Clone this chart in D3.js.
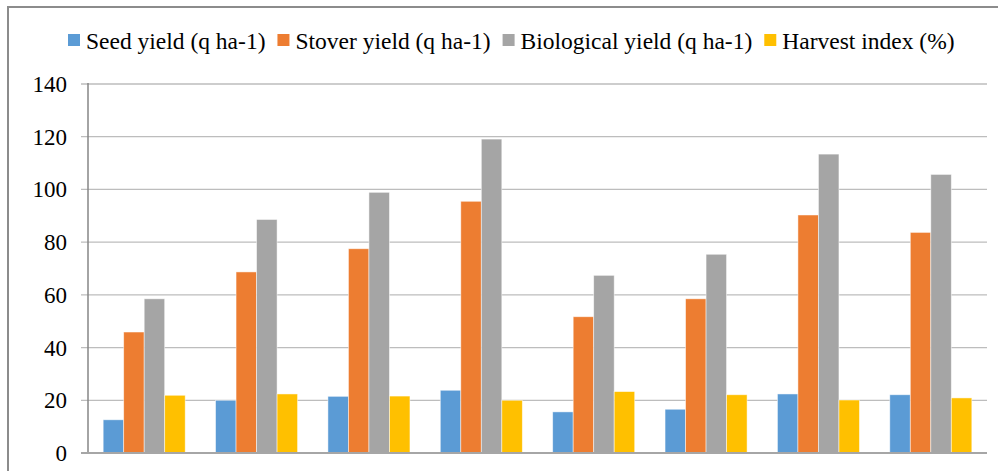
<!DOCTYPE html>
<html lang="en">
<head>
    <meta charset="UTF-8">
    <title>Yield chart</title>
    <script src="https://d3js.org/d3.v7.min.js"></script>
    <style>
        body { margin: 0; background: #ffffff; }
        svg { display: block; }
    </style>
</head>
<body>
<div id="chart"></div>

<script>
    // treatments (x labels are cut off in the source picture)
    const categories = ['T1', 'T2', 'T3', 'T4', 'T5', 'T6', 'T7', 'T8'];

    const seriesNames = ['Seed yield (q ha-1)', 'Stover yield (q ha-1)', 'Biological yield (q ha-1)', 'Harvest index (%)'];
    const seedYield = [12.6, 20.0, 21.5, 23.8, 15.6, 16.6, 22.4, 22.1];
    const stoverYield = [45.9, 68.7, 77.5, 95.5, 51.7, 58.5, 90.3, 83.7];
    const biologicalYield = [58.5, 88.6, 98.9, 119.1, 67.4, 75.4, 113.4, 105.7];
    const harvestIndex = [21.9, 22.4, 21.6, 20.0, 23.3, 22.1, 20.1, 20.9];
    const yTicks = [0, 20, 40, 60, 80, 100, 120, 140];

    const colors = ['#5B9BD5', '#ED7D31', '#A5A5A5', '#FFC000'];
    const series = [seedYield, stoverYield, biologicalYield, harvestIndex];

    const FONT = "'Liberation Serif', 'Times New Roman', Times, serif";
    const width = 998, height = 471;
    const plot = { left: 88, right: 987, top: 84, bottom: 453 };

    const svg = d3.select('#chart').append('svg')
        .attr('width', width)
        .attr('height', height)
        .style('font-family', FONT);

    // chart area border (right and bottom run off the picture)
    svg.append('rect')
        .attr('x', 8).attr('y', 7)
        .attr('width', width + 20).attr('height', height + 20)
        .attr('fill', '#fff')
        .attr('stroke', '#8c8c8c')
        .attr('stroke-width', 2);

    const y = d3.scaleLinear().domain([0, 140]).range([plot.bottom, plot.top]);

    const x0 = d3.scaleBand()
        .domain(categories)
        .range([plot.left, plot.right])
        .paddingInner(0.27)
        .paddingOuter(0.135);

    const x1 = d3.scaleBand()
        .domain(d3.range(series.length))
        .range([0, x0.bandwidth()]);

    // gridlines + tick marks
    svg.append('g')
        .selectAll('line')
        .data(yTicks.filter(t => t > 0))
        .join('line')
        .attr('x1', plot.left - 7)
        .attr('x2', plot.right)
        .attr('y1', d => y(d))
        .attr('y2', d => y(d))
        .attr('stroke', '#bdbdbd')
        .attr('stroke-width', 1.3);

    // y labels
    svg.append('g')
        .selectAll('text')
        .data(yTicks)
        .join('text')
        .attr('x', 67)
        .attr('y', d => y(d) + 8)
        .attr('text-anchor', 'end')
        .attr('font-family', FONT)
        .attr('font-size', 23)
        .attr('fill', '#000')
        .text(d => d);

    // bars
    const groups = svg.append('g')
        .selectAll('g')
        .data(categories)
        .join('g')
        .attr('transform', d => `translate(${x0(d)},0)`);

    groups.selectAll('rect')
        .data((d, i) => series.map((s, k) => ({ k, v: s[i] })))
        .join('rect')
        .attr('x', d => x1(d.k))
        .attr('width', x1.bandwidth())
        .attr('y', d => y(d.v))
        .attr('height', d => y(0) - y(d.v))
        .attr('fill', d => colors[d.k])
        .attr('stroke', 'rgba(255,255,255,0.6)')
        .attr('stroke-width', 0.8);

    // y axis line
    svg.append('line')
        .attr('x1', plot.left).attr('x2', plot.left)
        .attr('y1', plot.top - 1).attr('y2', plot.bottom)
        .attr('stroke', '#868686')
        .attr('stroke-width', 1.5);

    // x axis line
    svg.append('line')
        .attr('x1', plot.left - 7).attr('x2', plot.right)
        .attr('y1', plot.bottom).attr('y2', plot.bottom)
        .attr('stroke', '#a6a6a6')
        .attr('stroke-width', 2);

    // legend
    const legend = svg.append('g');
    let lx = 68;
    seriesNames.forEach((name, i) => {
        legend.append('rect')
            .attr('x', lx).attr('y', 34)
            .attr('width', 12).attr('height', 12)
            .attr('fill', colors[i]);
        const t = legend.append('text')
            .attr('x', lx + 18)
            .attr('y', 49)
            .attr('font-family', FONT)
            .attr('font-size', 23.5)
            .attr('fill', '#000')
            .text(name);
        lx += 18 + t.node().getComputedTextLength() + 12;
    });
</script>
</body>
</html>
